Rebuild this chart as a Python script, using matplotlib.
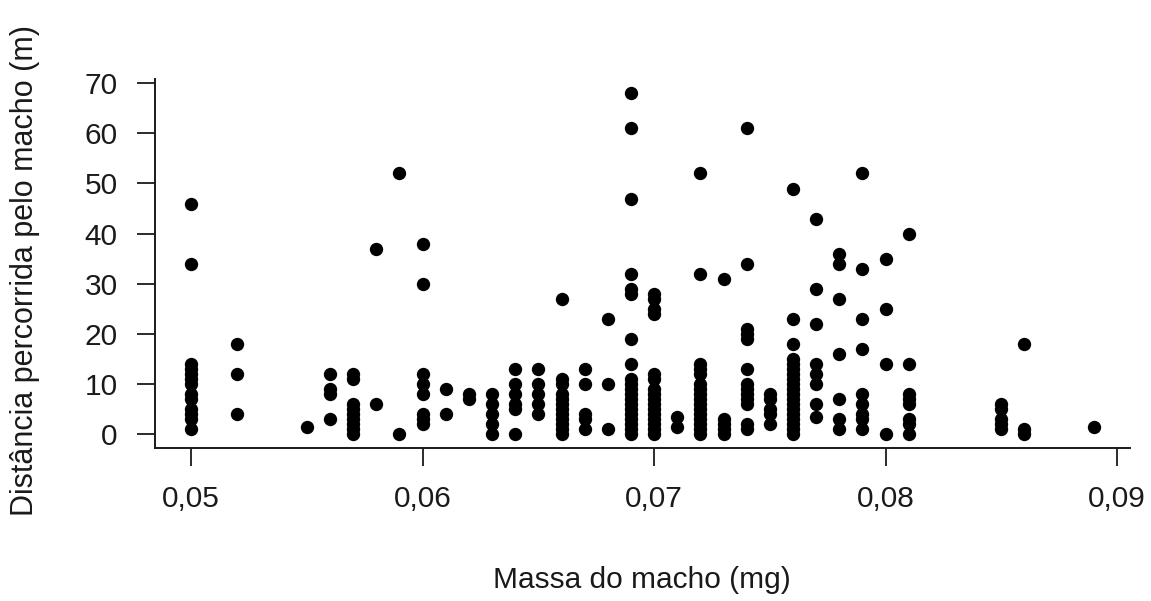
import matplotlib
matplotlib.use("Agg")
import matplotlib.pyplot as plt
from matplotlib.ticker import FuncFormatter

plt.rcParams['font.family'] = ['Liberation Sans', 'DejaVu Sans']

# Male mass levels (mg) and the distances recorded at each level (m)
mass_050 = [46, 34, 14, 13, 12, 11, 10, 8, 7, 5, 4, 3, 1]
mass_052 = [18, 12, 4]
mass_055 = [1.5]
mass_056 = [12, 9, 8, 3]
mass_057 = [12, 11, 6, 5, 4, 3, 2, 1, 0]
mass_058 = [37, 6]
mass_059 = [52, 0]
mass_060 = [38, 30, 12, 10, 8, 4, 3, 2]
mass_061 = [9, 4]
mass_062 = [8, 7]
mass_063 = [8, 6, 4, 2, 0]
mass_064 = [13, 10, 8, 6, 5, 0]
mass_065 = [13, 10, 8, 6, 4]
mass_066 = [27, 11, 10, 8, 7, 6, 5, 4, 3, 2, 1, 0]
mass_067 = [13, 10, 4, 3, 1]
mass_068 = [23, 10, 1]
mass_069 = [68, 61, 47, 32, 29, 28, 19, 14, 11, 10, 9, 8, 7, 6, 5, 4, 3, 2, 1, 0]
mass_070 = [28, 27, 25, 24, 12, 11, 9, 8, 7, 6, 5, 4, 3, 2, 1, 0]
mass_071 = [3.5, 1.5]
mass_072 = [52, 32, 14, 13, 12, 10, 9, 8, 7, 6, 5, 4, 3, 2, 1, 0]
mass_073 = [31, 3, 2, 1, 0]
mass_074 = [61, 34, 21, 20, 19, 13, 10, 9, 8, 7, 6, 2, 1]
mass_075 = [8, 7, 5, 4, 2]
mass_076 = [49, 23, 18, 15, 14, 13, 12, 11, 10, 9, 8, 7, 6, 5, 4, 3, 2, 1, 0]
mass_077 = [43, 29, 22, 14, 12, 10, 6, 3.5]
mass_078 = [36, 34, 27, 16, 7, 3, 1]
mass_079 = [52, 33, 23, 17, 8, 6, 4, 3, 1]
mass_080 = [35, 25, 14, 0]
mass_081 = [40, 14, 8, 7, 6, 3, 2, 0]
mass_085 = [6, 5, 3, 2, 1]
mass_086 = [18, 1, 0]
mass_089 = [1.5]

mass_levels = [0.050, 0.052, 0.055, 0.056, 0.057, 0.058, 0.059, 0.060, 0.061,
               0.062, 0.063, 0.064, 0.065, 0.066, 0.067, 0.068, 0.069, 0.070,
               0.071, 0.072, 0.073, 0.074, 0.075, 0.076, 0.077, 0.078, 0.079,
               0.080, 0.081, 0.085, 0.086, 0.089]
distance_groups = [mass_050, mass_052, mass_055, mass_056, mass_057, mass_058,
                   mass_059, mass_060, mass_061, mass_062, mass_063, mass_064,
                   mass_065, mass_066, mass_067, mass_068, mass_069, mass_070,
                   mass_071, mass_072, mass_073, mass_074, mass_075, mass_076,
                   mass_077, mass_078, mass_079, mass_080, mass_081, mass_085,
                   mass_086, mass_089]

x_ticks = [0.05, 0.06, 0.07, 0.08, 0.09]
y_ticks = [0, 10, 20, 30, 40, 50, 60, 70]
x_label = "Massa do macho (mg)"
y_label = "Distância percorrida pelo macho (m)"

xs, ys = [], []
for m, ds in zip(mass_levels, distance_groups):
    xs.extend([m] * len(ds))
    ys.extend(ds)

fig = plt.figure(figsize=(11.51, 6.01), dpi=100)
ax = fig.add_axes([0.1347, 0.2551, 0.8471, 0.6135])

ax.plot(xs, ys, linestyle='none', marker='o', markersize=9.6,
        color='black', markeredgewidth=0)

ax.set_xlim(0.04844, 0.09056)
ax.set_ylim(-2.70, 70.85)

for s in ['top', 'right']:
    ax.spines[s].set_visible(False)
for s in ['left', 'bottom']:
    ax.spines[s].set_linewidth(1.4)
    ax.spines[s].set_color('#1a1a1a')

ax.set_xticks(x_ticks)
ax.set_yticks(y_ticks)
ax.xaxis.set_major_formatter(FuncFormatter(lambda v, p: f"{v:.2f}".replace('.', ',')))
ax.tick_params(axis='both', length=13, width=1.3, color='#1a1a1a',
               labelsize=21.5, labelcolor='#1a1a1a')
ax.tick_params(axis='x', pad=14)
ax.tick_params(axis='y', pad=14)

fig.text(0.5578, 1 - 580 / 601, x_label, ha='center', va='center',
         fontsize=21.5, color='#1a1a1a')
fig.text(25 / 1151, 1 - 270 / 601, y_label, ha='center', va='center',
         rotation=90, fontsize=22, color='#1a1a1a')

fig.savefig("out.png", dpi=100)
